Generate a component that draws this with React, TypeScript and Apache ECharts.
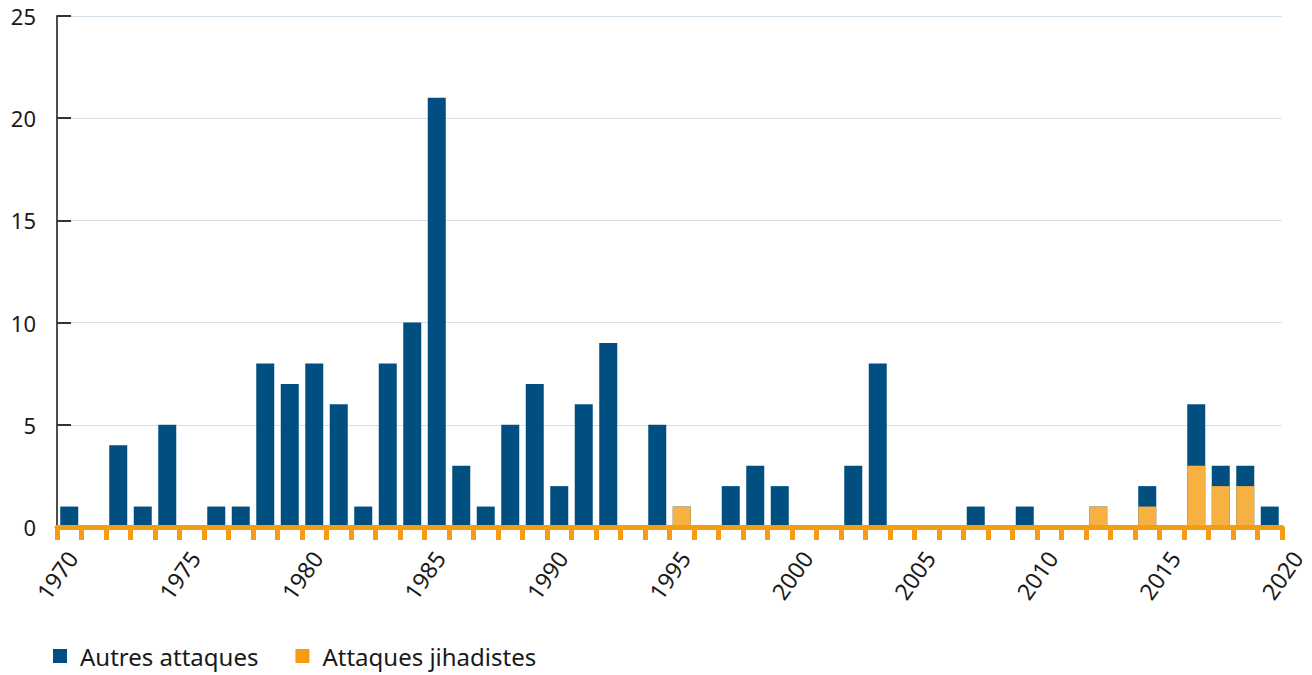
import React, { useEffect, useRef } from "react";
import * as echarts from "echarts";

const years: number[] = [];
for (let y = 1970; y <= 2019; y++) years.push(y);

// values per year 1970..2019
const autres = [
  1, 0, 4, 1, 5, 0, 1, 1, 8, 7,
  8, 6, 1, 8, 10, 21, 3, 1, 5, 7,
  2, 6, 9, 0, 5, 0, 0, 2, 3, 2,
  0, 0, 3, 8, 0, 0, 0, 1, 0, 1,
  0, 0, 0, 0, 1, 0, 3, 1, 1, 1,
];
const jihadistes = [
  0, 0, 0, 0, 0, 0, 0, 0, 0, 0,
  0, 0, 0, 0, 0, 0, 0, 0, 0, 0,
  0, 0, 0, 0, 0, 1, 0, 0, 0, 0,
  0, 0, 0, 0, 0, 0, 0, 0, 0, 0,
  0, 0, 1, 0, 1, 0, 3, 2, 2, 0,
];

const FONT = "Noto Sans";
const BLUE = "#004f80";
const ORANGE_BAR = "#f7b042";
const ORANGE = "#f59c12";

export default function App() {
  const ref = useRef<HTMLDivElement>(null);
  useEffect(() => {
    if (!ref.current) return;
    const chart = echarts.init(ref.current, undefined, { renderer: "svg" });
    chart.setOption({
      animation: false,
      textStyle: { fontFamily: FONT },
      grid: { left: 57, right: 30, top: 16, bottom: 148, containLabel: false },
      legend: {
        left: 53,
        top: 644,
        padding: 0,
        itemWidth: 14,
        itemHeight: 14,
        itemGap: 37,
        icon: "rect",
        data: [
          { name: "Autres attaques", itemStyle: { color: BLUE } },
          { name: "Attaques jihadistes", itemStyle: { color: ORANGE } },
        ],
        textStyle: { fontFamily: FONT, fontSize: 24, color: "#1a1a1a", padding: [0, 0, 0, 8] },
      },
      xAxis: {
        type: "value",
        min: 1970,
        max: 2020,
        interval: 5,
        z: 5,
        splitLine: { show: false },
        axisLine: { show: true, lineStyle: { color: ORANGE, width: 5 } },
        axisTick: { show: true, length: 13, lineStyle: { color: ORANGE, width: 5 } },
        minorTick: { show: true, splitNumber: 5, length: 13, lineStyle: { color: ORANGE, width: 5 } },
        axisLabel: {
          rotate: 55,
          margin: 48,
          align: "center",
          verticalAlign: "middle",
          fontSize: 23,
          color: "#1a1a1a",
          fontFamily: FONT,
          formatter: (v: number) => String(v),
        },
      },
      yAxis: {
        type: "value",
        min: 0,
        max: 25,
        interval: 5,
        axisLine: { show: true, lineStyle: { color: "#4d4d4d", width: 2 } },
        axisTick: { show: true, inside: true, length: 14, lineStyle: { color: "#333333", width: 2 } },
        splitLine: { show: true, lineStyle: { color: "#d3e0ea", width: 1 } },
        axisLabel: { fontSize: 22, color: "#1a1a1a", margin: 21, fontFamily: FONT },
      },
      series: [
        {
          name: "Autres attaques",
          type: "bar",
          barWidth: 18,
          barGap: "-100%",
          z: 2,
          itemStyle: { color: BLUE },
          data: years.map((y, i) => [y + 0.5, autres[i] + jihadistes[i]]),
        },
        {
          name: "Attaques jihadistes",
          type: "bar",
          barWidth: 18,
          barGap: "-100%",
          z: 3,
          itemStyle: { color: ORANGE_BAR },
          data: years.map((y, i) => [y + 0.5, jihadistes[i]]),
        },
      ],
    });
    return () => chart.dispose();
  }, []);
  return <div ref={ref} style={{ width: 1312, height: 675, position: "absolute", left: 0, top: 0 }} />;
}
